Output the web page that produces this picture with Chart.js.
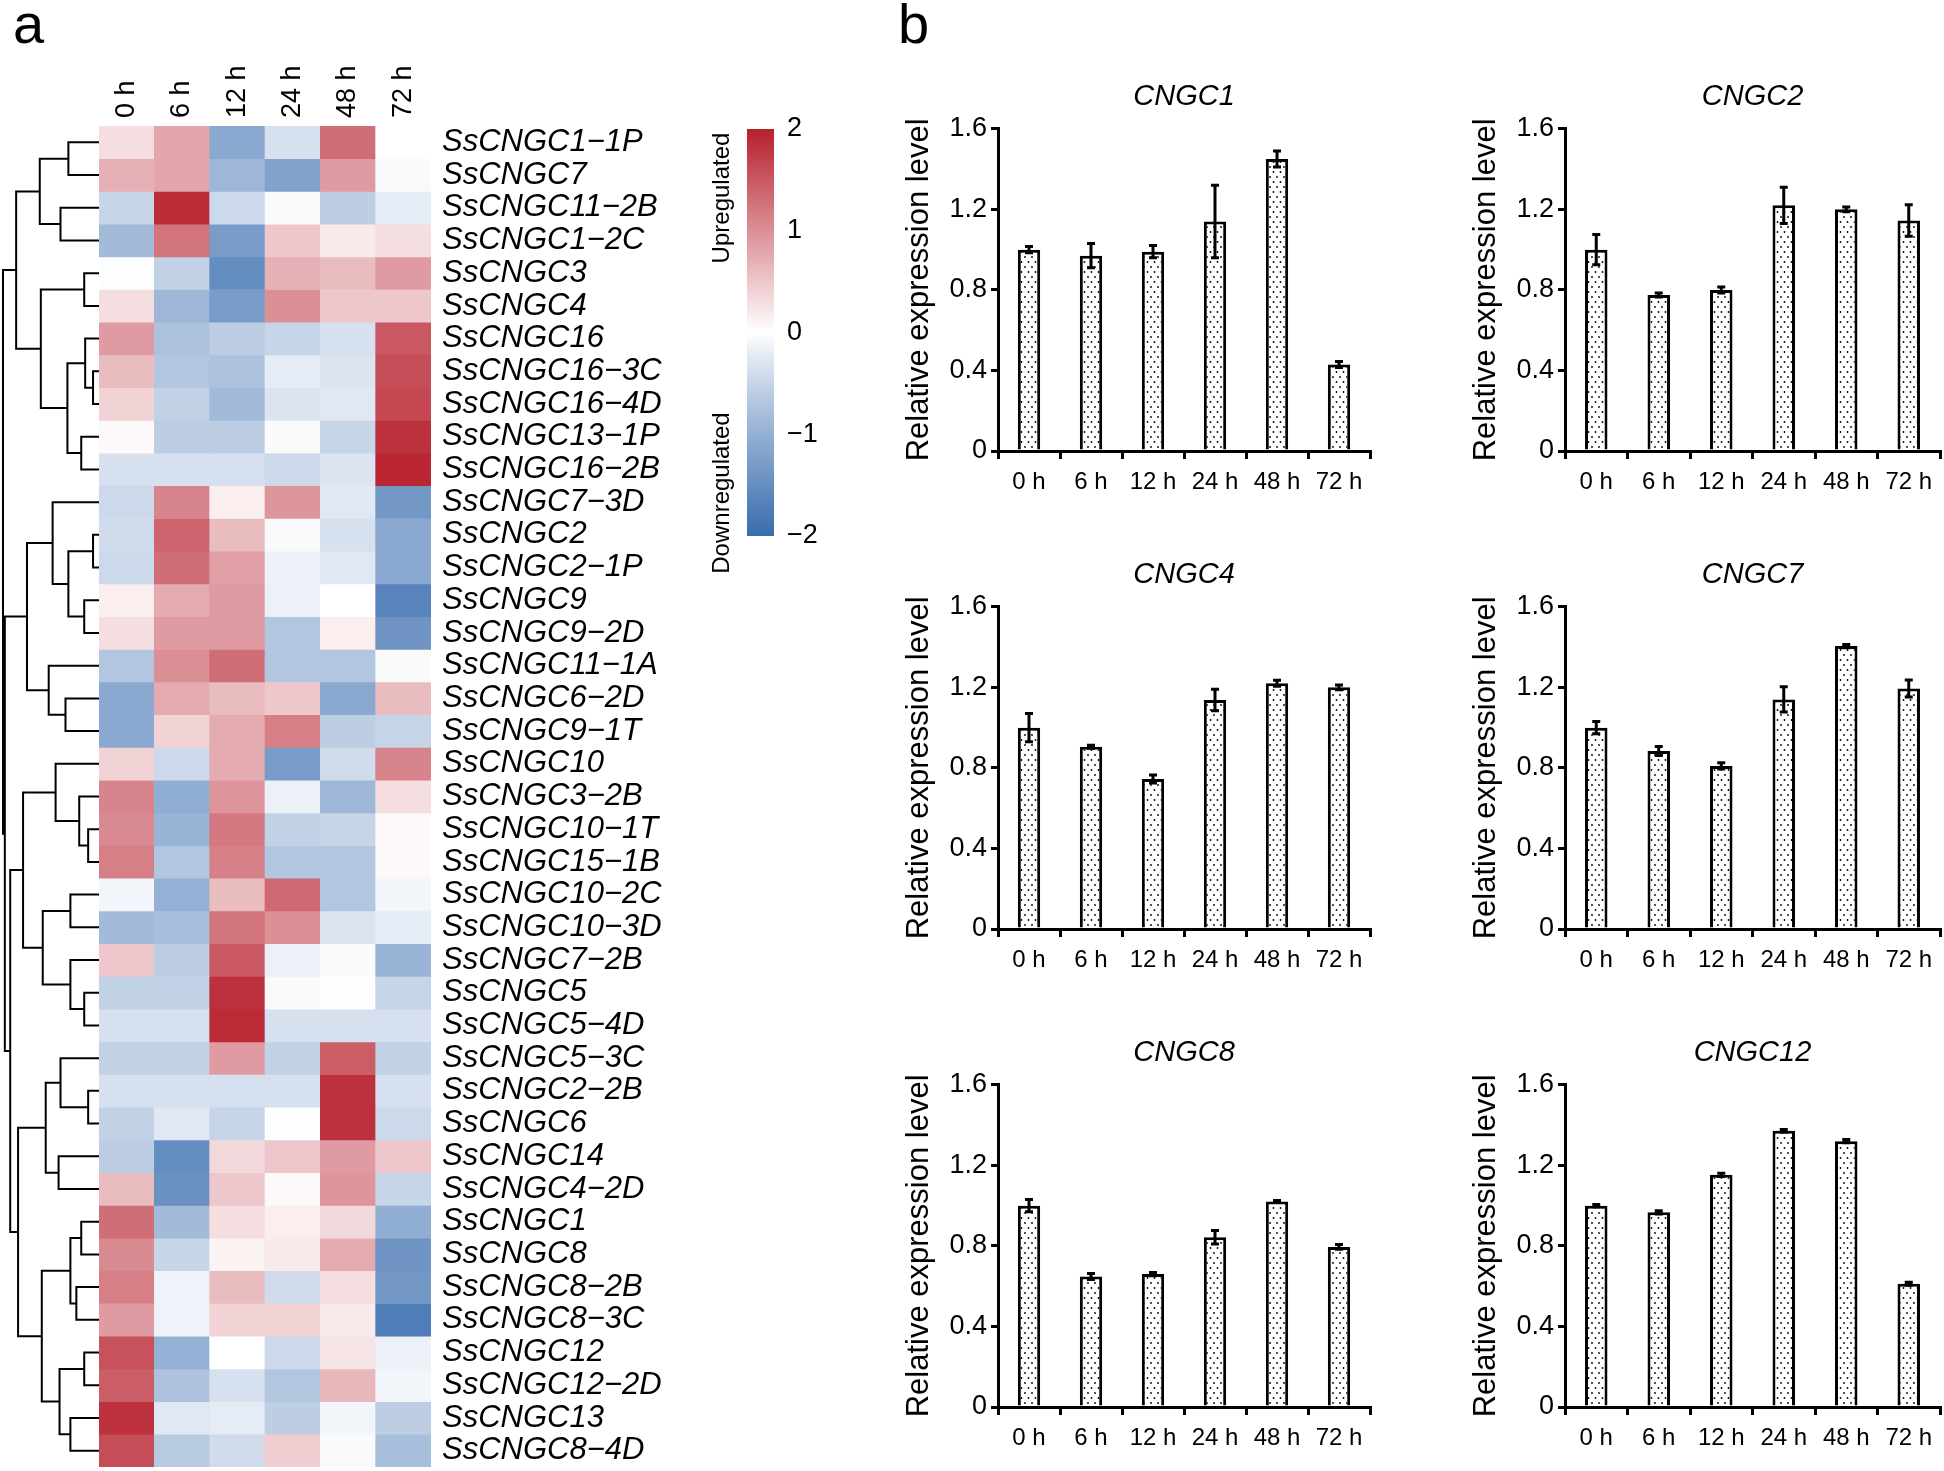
<!DOCTYPE html>
<html>
<head>
<meta charset="utf-8">
<title>SsCNGC expression</title>
<script src="https://cdn.jsdelivr.net/npm/chart.js@4.4.1/dist/chart.umd.min.js"></script>
<style>
  html, body { margin: 0; padding: 0; background: #fff; }
  #fig { position: relative; width: 1944px; height: 1471px; overflow: hidden;
         font-family: "Liberation Sans", Arial, sans-serif; }
  #fig canvas { position: absolute; }
  .panel { position: absolute; font-size: 56px; line-height: 1; color: #000; }
</style>
</head>
<body>
<div id="fig">
  <div class="panel" style="left:13px; top:-4px;">a</div>
  <div class="panel" style="left:898px; top:-4px;">b</div>

  <canvas id="dendro" width="110" height="1471" style="left:0; top:0;"></canvas>
  <canvas id="heat" width="620" height="1471" style="left:90px; top:0;"></canvas>
  <canvas id="cbar" width="160" height="500" style="left:690px; top:80px;"></canvas>

  <canvas id="barA" width="510" height="450" style="left:880px; top:60px;"></canvas>
  <canvas id="barB" width="497" height="450" style="left:1447px; top:60px;"></canvas>
  <canvas id="barC" width="510" height="450" style="left:880px; top:538px;"></canvas>
  <canvas id="barD" width="497" height="450" style="left:1447px; top:538px;"></canvas>
  <canvas id="barE" width="510" height="450" style="left:880px; top:1016px;"></canvas>
  <canvas id="barF" width="497" height="450" style="left:1447px; top:1016px;"></canvas>
</div>

<script>
// --- DATA ---
const timeLabels = ['0 h', '6 h', '12 h', '24 h', '48 h', '72 h'];

const geneNames = [
  'SsCNGC1\u22121P', 'SsCNGC7', 'SsCNGC11\u22122B', 'SsCNGC1\u22122C', 'SsCNGC3', 'SsCNGC4',
  'SsCNGC16', 'SsCNGC16\u22123C', 'SsCNGC16\u22124D', 'SsCNGC13\u22121P', 'SsCNGC16\u22122B',
  'SsCNGC7\u22123D', 'SsCNGC2', 'SsCNGC2\u22121P', 'SsCNGC9', 'SsCNGC9\u22122D', 'SsCNGC11\u22121A',
  'SsCNGC6\u22122D', 'SsCNGC9\u22121T', 'SsCNGC10', 'SsCNGC3\u22122B', 'SsCNGC10\u22121T',
  'SsCNGC15\u22121B', 'SsCNGC10\u22122C', 'SsCNGC10\u22123D', 'SsCNGC7\u22122B', 'SsCNGC5',
  'SsCNGC5\u22124D', 'SsCNGC5\u22123C', 'SsCNGC2\u22122B', 'SsCNGC6', 'SsCNGC14', 'SsCNGC4\u22122D',
  'SsCNGC1', 'SsCNGC8', 'SsCNGC8\u22122B', 'SsCNGC8\u22123C', 'SsCNGC12', 'SsCNGC12\u22122D',
  'SsCNGC13', 'SsCNGC8\u22124D'
];

// row-scaled expression (z-score), one row per gene, columns = timeLabels
const heatValues = [
  [ 0.30,  0.80, -1.10, -0.35,  1.30,  0.00],
  [ 0.70,  0.80, -0.90, -1.20,  0.90, -0.05],
  [-0.50,  1.90, -0.45, -0.05, -0.60, -0.20],
  [-0.85,  1.25, -1.30,  0.50,  0.20,  0.30],
  [-0.02, -0.55, -1.50,  0.70,  0.60,  0.90],
  [ 0.30, -0.90, -1.30,  1.00,  0.50,  0.50],
  [ 0.90, -0.75, -0.60, -0.50, -0.35,  1.50],
  [ 0.60, -0.70, -0.75, -0.20, -0.30,  1.60],
  [ 0.40, -0.55, -0.85, -0.30, -0.25,  1.65],
  [ 0.05, -0.60, -0.60, -0.05, -0.50,  1.85],
  [-0.35, -0.35, -0.35, -0.45, -0.30,  1.95],
  [-0.45,  1.10,  0.15,  0.95, -0.25, -1.35],
  [-0.40,  1.40,  0.60, -0.05, -0.35, -1.10],
  [-0.45,  1.30,  0.85, -0.15, -0.25, -1.10],
  [ 0.15,  0.75,  0.90, -0.15,  0.00, -1.65],
  [ 0.30,  0.90,  0.90, -0.70,  0.15, -1.40],
  [-0.70,  1.00,  1.30, -0.70, -0.70, -0.05],
  [-1.10,  0.75,  0.60,  0.50, -1.10,  0.60],
  [-1.10,  0.40,  0.75,  1.15, -0.60, -0.50],
  [ 0.40, -0.45,  0.75, -1.30, -0.40,  1.10],
  [ 1.10, -1.05,  0.95, -0.15, -0.90,  0.30],
  [ 1.05, -0.95,  1.20, -0.55, -0.50,  0.05],
  [ 1.15, -0.70,  1.15, -0.70, -0.70,  0.05],
  [-0.10, -1.00,  0.60,  1.35, -0.70, -0.10],
  [-0.85, -0.80,  1.25,  1.00, -0.30, -0.20],
  [ 0.50, -0.60,  1.50, -0.15, -0.05, -0.95],
  [-0.55, -0.55,  1.85, -0.05,  0.02, -0.50],
  [-0.35, -0.35,  1.90, -0.35, -0.35, -0.35],
  [-0.55, -0.55,  0.90, -0.55,  1.45, -0.55],
  [-0.35, -0.35, -0.35, -0.35,  1.85, -0.35],
  [-0.55, -0.25, -0.50, -0.02,  1.85, -0.45],
  [-0.60, -1.50,  0.35,  0.50,  0.90,  0.50],
  [ 0.60, -1.45,  0.50,  0.05,  0.95, -0.50],
  [ 1.30, -0.85,  0.30,  0.15,  0.35, -1.05],
  [ 1.05, -0.50,  0.12,  0.20,  0.75, -1.40],
  [ 1.15, -0.12,  0.60, -0.40,  0.30, -1.35],
  [ 0.90, -0.12,  0.40,  0.40,  0.20, -1.75],
  [ 1.55, -1.00,  0.00, -0.45,  0.25, -0.15],
  [ 1.45, -0.75, -0.35, -0.70,  0.65, -0.10],
  [ 1.85, -0.25, -0.20, -0.60, -0.10, -0.60],
  [ 1.60, -0.65, -0.40,  0.45, -0.05, -0.80]
];

// row clustering, hclust style: negative = leaf (row number), positive = earlier merge
const dendroMerge = [
  [-8, -9], [-13, -14], [-22, -23], [-30, -31], [-5, -6], [-15, -16], [-27, -28], [-38, -39],
  [-7, 1], [-10, -11], [-34, -35], [-21, 3], [-36, -37], [-24, -25], [-26, 7], [11, 13],
  [-40, -41], [-1, -2], [2, 6], [9, 10], [-18, -19], [-3, -4], [-29, 4], [8, 17],
  [-32, -33], [-20, 12], [-12, 19], [-17, 21], [23, 25], [14, 15], [16, 24], [18, 22],
  [5, 20], [27, 28], [26, 30], [29, 31], [32, 33], [35, 36], [34, 38], [37, 39]
];
const dendroHeight = [
  0.62, 0.62, 1.13, 1.13, 1.54, 1.54, 1.54, 1.54,
  1.44, 1.85, 1.85, 2.06, 2.36, 2.98, 2.98, 2.98,
  2.98, 3.19, 3.19, 3.29, 3.49, 4.01, 4.01, 4.11,
  4.21, 4.52, 4.83, 5.24, 5.55, 5.86, 5.96, 6.17,
  6.06, 7.50, 7.91, 8.43, 8.63, 9.25, 9.81, 10.0
];

const colorMin = -2, colorMax = 2;

// qRT-PCR relative expression (mean, error)
const barTitles = ['CNGC1', 'CNGC2', 'CNGC4', 'CNGC7', 'CNGC8', 'CNGC12'];
const cngc1Mean  = [1.00, 0.97, 0.99, 1.14, 1.45, 0.43];
const cngc1Err   = [0.015, 0.06, 0.03, 0.18, 0.04, 0.015];
const cngc2Mean  = [1.00, 0.775, 0.80, 1.22, 1.20, 1.145];
const cngc2Err   = [0.075, 0.01, 0.015, 0.09, 0.012, 0.078];
const cngc4Mean  = [1.00, 0.905, 0.745, 1.137, 1.22, 1.20];
const cngc4Err   = [0.07, 0.008, 0.02, 0.053, 0.015, 0.012];
const cngc7Mean  = [1.00, 0.884, 0.81, 1.14, 1.405, 1.194];
const cngc7Err   = [0.03, 0.022, 0.015, 0.063, 0.008, 0.042];
const cngc8Mean  = [1.00, 0.648, 0.66, 0.843, 1.02, 0.795];
const cngc8Err   = [0.03, 0.015, 0.008, 0.033, 0.005, 0.012];
const cngc12Mean = [1.00, 0.967, 1.153, 1.372, 1.32, 0.612];
const cngc12Err  = [0.006, 0.008, 0.008, 0.006, 0.008, 0.008];

// --- GLOBAL STYLE ---
Chart.defaults.font.family = '"Liberation Sans", Arial, sans-serif';
Chart.defaults.color = '#000';
Chart.defaults.animation = false;
Chart.defaults.plugins.legend.display = false;
Chart.defaults.plugins.tooltip.enabled = false;

const lowRGB = [56, 108, 174];
const highRGB = [183, 32, 45];

function heatColor(v) {
  let t = Math.min(Math.abs(v) / colorMax, 1);
  if (v < 0) t = Math.pow(t, 0.9); // blues come out a bit stronger in the original ramp
  const c = v < 0 ? lowRGB : highRGB;
  const mix = (k) => Math.round(255 + (c[k] - 255) * t);
  return 'rgb(' + mix(0) + ',' + mix(1) + ',' + mix(2) + ')';
}

function noPad(s) {
  s.paddingTop = 0; s.paddingBottom = 0; s.paddingLeft = 0; s.paddingRight = 0;
}

// --- DENDROGRAM ---
function dendroDatasets() {
  const pos = [], hgt = [];
  const place = (k) => k < 0 ? { y: -k - 0.5, h: 0 } : { y: pos[k - 1], h: hgt[k - 1] };
  return dendroMerge.map(([a, b], m) => {
    const A = place(a), B = place(b), h = dendroHeight[m];
    pos[m] = (A.y + B.y) / 2;
    hgt[m] = h;
    return {
      data: [{ x: A.h, y: A.y }, { x: h, y: A.y }, { x: h, y: B.y }, { x: B.h, y: B.y }],
      showLine: true,
      borderColor: '#000',
      borderWidth: 2,
      pointRadius: 0,
      tension: 0,
      clip: false
    };
  });
}

new Chart(document.getElementById('dendro'), {
  type: 'scatter',
  data: { datasets: dendroDatasets() },
  options: {
    responsive: false,
    layout: { padding: { left: 3, right: 11, top: 126, bottom: 4 } },
    scales: {
      x: { type: 'linear', min: 0, max: 10, reverse: true, display: false },
      y: { type: 'linear', min: 0, max: geneNames.length, reverse: true, display: false }
    }
  }
});

// --- HEATMAP ---
const heatDatasets = heatValues.map((row, r) => ({
  data: row.map(() => [r, r + 1]),
  backgroundColor: row.map(heatColor),
  borderWidth: 0,
  barPercentage: 1,
  categoryPercentage: 1,
  grouped: false,
  yAxisID: 'y'
}));

const colLabelSize = 27;

new Chart(document.getElementById('heat'), {
  type: 'bar',
  data: { labels: timeLabels, datasets: heatDatasets },
  options: {
    responsive: false,
    layout: { padding: { left: 9, right: 0, top: 0, bottom: 4 } },
    scales: {
      x: {
        position: 'top',
        grid: { display: false, drawTicks: false },
        border: { display: false },
        ticks: {
          minRotation: 90, maxRotation: 90, padding: 8,
          // top-axis rotated labels are drawn one line-height to the left; pull them back
          labelOffset: colLabelSize * 1.2,
          font: { size: colLabelSize, lineHeight: 1.2 }, color: '#000'
        },
        afterFit: (s) => { s.height = 126; noPad(s); }
      },
      y: { type: 'linear', min: 0, max: geneNames.length, reverse: true, display: false },
      yNames: {
        type: 'category',
        labels: geneNames,
        position: 'right',
        offset: true,
        grid: { display: false, drawTicks: false },
        border: { display: false },
        ticks: { autoSkip: false, padding: 11, font: { size: 31, style: 'italic' }, color: '#000' },
        afterFit: (s) => { s.width = 279; noPad(s); }
      }
    }
  }
});

// --- COLOUR KEY ---
const keyTextPlugin = {
  id: 'keyText',
  afterDraw(chart) {
    const { ctx, chartArea } = chart;
    ctx.save();
    ctx.font = '24px "Liberation Sans", Arial, sans-serif';
    ctx.fillStyle = '#000';
    ctx.textAlign = 'center';
    ctx.textBaseline = 'middle';
    [['Upregulated', chartArea.top + 69], ['Downregulated', chartArea.top + 364]].forEach(([t, y]) => {
      ctx.save();
      ctx.translate(chartArea.left - 25, y);
      ctx.rotate(-Math.PI / 2);
      ctx.fillText(t, 0, 0);
      ctx.restore();
    });
    ctx.restore();
  }
};

new Chart(document.getElementById('cbar'), {
  type: 'bar',
  data: {
    labels: [''],
    datasets: [{
      data: [[colorMin, colorMax]],
      backgroundColor: (c) => {
        const { chart } = c;
        if (!chart.chartArea) return '#fff';
        const y = chart.scales.y;
        const g = chart.ctx.createLinearGradient(0, y.getPixelForValue(colorMin), 0, y.getPixelForValue(colorMax));
        for (let v = colorMin; v <= colorMax + 1e-9; v += 0.25) {
          g.addColorStop((v - colorMin) / (colorMax - colorMin), heatColor(v));
        }
        return g;
      },
      borderWidth: 0,
      barPercentage: 1,
      categoryPercentage: 1
    }]
  },
  options: {
    responsive: false,
    layout: { padding: { left: 57, right: 0, top: 49, bottom: 44 } },
    scales: {
      x: { display: false },
      y: {
        position: 'right',
        min: colorMin,
        max: colorMax,
        grid: { display: false, drawTicks: false },
        border: { display: false },
        ticks: {
          stepSize: 1,
          padding: 13,
          font: { size: 27 },
          color: '#000',
          callback: (v) => v < 0 ? '\u2212' + Math.abs(v) : String(v)
        },
        afterFit: (s) => { s.width = 76; noPad(s); }
      }
    }
  },
  plugins: [keyTextPlugin]
});

// --- BAR CHARTS ---
function dotPattern() {
  const c = document.createElement('canvas');
  c.width = 7; c.height = 10;
  const g = c.getContext('2d');
  g.fillStyle = '#fff';
  g.fillRect(0, 0, 7, 10);
  g.fillStyle = '#000';
  [[1.5, 2], [5, 7]].forEach(([x, y]) => {
    g.beginPath();
    g.arc(x, y, 0.9, 0, Math.PI * 2);
    g.fill();
  });
  return g.createPattern(c, 'repeat');
}
const dots = dotPattern();

const errorBarPlugin = {
  id: 'errorBars',
  afterDatasetsDraw(chart, args, opts) {
    const meta = chart.getDatasetMeta(0);
    const values = chart.data.datasets[0].data;
    const yScale = chart.scales.y;
    const ctx = chart.ctx;
    ctx.save();
    ctx.strokeStyle = '#000';
    ctx.lineWidth = 3;
    meta.data.forEach((bar, i) => {
      const top = yScale.getPixelForValue(values[i] + opts.errors[i]);
      const bot = yScale.getPixelForValue(values[i] - opts.errors[i]);
      ctx.beginPath();
      ctx.moveTo(bar.x, top); ctx.lineTo(bar.x, bot);
      ctx.moveTo(bar.x - 4, top); ctx.lineTo(bar.x + 4, top);
      ctx.moveTo(bar.x - 4, bot); ctx.lineTo(bar.x + 4, bot);
      ctx.stroke();
    });
    ctx.restore();
  }
};

function makeBarChart(id, title, means, errs, rightPad) {
  return new Chart(document.getElementById(id), {
    type: 'bar',
    data: {
      labels: timeLabels,
      datasets: [{
        data: means,
        backgroundColor: dots,
        borderColor: '#000',
        borderWidth: 3,
        barPercentage: 0.36,
        categoryPercentage: 1
      }]
    },
    options: {
      responsive: false,
      layout: { padding: { left: 0, right: rightPad, top: 0, bottom: 0 } },
      plugins: {
        title: {
          display: true,
          text: title,
          fullSize: false,
          color: '#000',
          font: { size: 29, style: 'italic', weight: 'normal' },
          padding: { top: 20, bottom: 14 }
        },
        errorBars: { errors: errs }
      },
      scales: {
        x: {
          grid: { drawOnChartArea: false, color: '#000', lineWidth: 3, tickLength: 8, offset: true },
          border: { color: '#000', width: 3 },
          ticks: { padding: 9, maxRotation: 0, autoSkip: false, font: { size: 24 }, color: '#000' },
          afterFit: (s) => { s.height = 59; noPad(s); }
        },
        y: {
          min: 0,
          max: 1.6,
          grid: { drawOnChartArea: false, color: '#000', lineWidth: 3, tickLength: 7 },
          border: { color: '#000', width: 3 },
          ticks: {
            stepSize: 0.4,
            padding: 4,
            font: { size: 27 },
            color: '#000',
            callback: (v) => v === 0 ? '0' : Number(v).toFixed(1)
          },
          title: {
            display: true,
            text: 'Relative expression level',
            color: '#000',
            font: { size: 31 },
            padding: { top: 21, bottom: 0 }
          },
          afterFit: (s) => { s.width = 118; noPad(s); }
        }
      }
    },
    plugins: [errorBarPlugin]
  });
}

makeBarChart('barA', barTitles[0], cngc1Mean, cngc1Err, 20);
makeBarChart('barB', barTitles[1], cngc2Mean, cngc2Err, 4);
makeBarChart('barC', barTitles[2], cngc4Mean, cngc4Err, 20);
makeBarChart('barD', barTitles[3], cngc7Mean, cngc7Err, 4);
makeBarChart('barE', barTitles[4], cngc8Mean, cngc8Err, 20);
makeBarChart('barF', barTitles[5], cngc12Mean, cngc12Err, 4);
</script>
</body>
</html>
